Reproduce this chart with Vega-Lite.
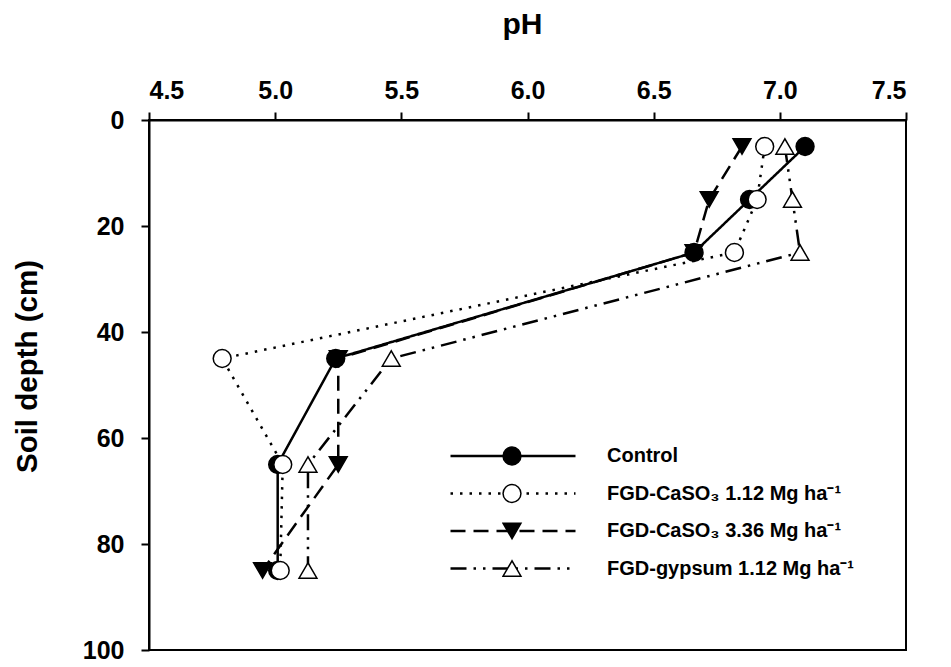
{
  "$schema": "https://vega.github.io/schema/vega-lite/v6.json",
  "width": 757,
  "height": 530,
  "autosize": {"type": "none"},
  "padding": {"left": 149, "top": 120, "right": 45, "bottom": 17},
  "background": "white",
  "config": {
    "view": {"stroke": "black", "strokeWidth": 2},
    "font": "Liberation Sans",
    "axis": {
      "grid": false,
      "domainColor": "black",
      "domainWidth": 2,
      "tickColor": "black",
      "tickWidth": 2,
      "tickSize": 8,
      "labelFont": "Liberation Sans",
      "labelFontWeight": "bold",
      "labelFontSize": 25,
      "labelColor": "black",
      "titleFont": "Liberation Sans",
      "titleFontWeight": "bold",
      "titleFontSize": 29.5,
      "titleColor": "black"
    },
    "legend": {
      "labelFont": "Liberation Sans",
      "labelFontWeight": "bold",
      "labelColor": "black",
      "symbolStrokeColor": "black",
      "symbolBaseStrokeColor": "black"
    }
  },
  "data": {
    "values": [
      {"series": "Control", "pH": 7.10, "depth": 5},
      {"series": "Control", "pH": 6.88, "depth": 15},
      {"series": "Control", "pH": 6.66, "depth": 25},
      {"series": "Control", "pH": 5.24, "depth": 45},
      {"series": "Control", "pH": 5.01, "depth": 65},
      {"series": "Control", "pH": 5.01, "depth": 85},
      {"series": "FGD-CaSO₃ 1.12 Mg ha⁻¹", "pH": 6.94, "depth": 5},
      {"series": "FGD-CaSO₃ 1.12 Mg ha⁻¹", "pH": 6.91, "depth": 15},
      {"series": "FGD-CaSO₃ 1.12 Mg ha⁻¹", "pH": 6.82, "depth": 25},
      {"series": "FGD-CaSO₃ 1.12 Mg ha⁻¹", "pH": 4.79, "depth": 45},
      {"series": "FGD-CaSO₃ 1.12 Mg ha⁻¹", "pH": 5.03, "depth": 65},
      {"series": "FGD-CaSO₃ 1.12 Mg ha⁻¹", "pH": 5.02, "depth": 85},
      {"series": "FGD-CaSO₃ 3.36 Mg ha⁻¹", "pH": 6.85, "depth": 5},
      {"series": "FGD-CaSO₃ 3.36 Mg ha⁻¹", "pH": 6.72, "depth": 15},
      {"series": "FGD-CaSO₃ 3.36 Mg ha⁻¹", "pH": 6.66, "depth": 25},
      {"series": "FGD-CaSO₃ 3.36 Mg ha⁻¹", "pH": 5.25, "depth": 45},
      {"series": "FGD-CaSO₃ 3.36 Mg ha⁻¹", "pH": 5.25, "depth": 65},
      {"series": "FGD-CaSO₃ 3.36 Mg ha⁻¹", "pH": 4.95, "depth": 85},
      {"series": "FGD-gypsum 1.12 Mg ha⁻¹", "pH": 7.02, "depth": 5},
      {"series": "FGD-gypsum 1.12 Mg ha⁻¹", "pH": 7.05, "depth": 15},
      {"series": "FGD-gypsum 1.12 Mg ha⁻¹", "pH": 7.08, "depth": 25},
      {"series": "FGD-gypsum 1.12 Mg ha⁻¹", "pH": 5.46, "depth": 45},
      {"series": "FGD-gypsum 1.12 Mg ha⁻¹", "pH": 5.13, "depth": 65},
      {"series": "FGD-gypsum 1.12 Mg ha⁻¹", "pH": 5.13, "depth": 85}
    ]
  },
  "encoding": {
    "x": {
      "field": "pH",
      "type": "quantitative",
      "scale": {"domain": [4.5, 7.5], "nice": false, "zero": false},
      "axis": {
        "orient": "top",
        "values": [4.5, 5, 5.5, 6, 6.5, 7, 7.5],
        "format": ".1f",
        "title": "pH",
        "labelPadding": 9,
        "titleFontSize": 30,
        "titleX": 373,
        "titleY": -87,
        "titleAlign": "center",
        "titleBaseline": "alphabetic"
      }
    },
    "y": {
      "field": "depth",
      "type": "quantitative",
      "scale": {"domain": [0, 100], "reverse": true, "nice": false},
      "axis": {
        "values": [0, 20, 40, 60, 80, 100],
        "title": "Soil depth (cm)",
        "labelPadding": 17,
        "titleX": -113,
        "titleY": 246,
        "titleAngle": 270,
        "titleAlign": "center",
        "titleBaseline": "alphabetic"
      }
    }
  },
  "layer": [
    {
      "mark": {"type": "line", "stroke": "black", "strokeWidth": 2.5},
      "encoding": {
        "order": {"field": "depth", "type": "quantitative"},
        "strokeDash": {
          "field": "series",
          "type": "nominal",
          "scale": {"range": [[1, 0], [2.5, 7], [15, 8], [16, 7, 2.5, 7, 2.5, 7]]},
          "legend": {
            "orient": "none",
            "legendX": 300,
            "legendY": 321,
            "title": null,
            "padding": 0,
            "symbolType": "stroke",
            "symbolSize": 15625,
            "symbolStrokeWidth": 2.5,
            "clipHeight": 30,
            "rowPadding": 7.5,
            "labelOffset": 30,
            "labelFontSize": 20,
            "labelLimit": 400
          }
        }
      }
    },
    {
      "mark": {"type": "point", "filled": true, "stroke": "black", "strokeWidth": 1.5, "size": 320, "opacity": 1},
      "encoding": {
        "shape": {
          "field": "series",
          "type": "nominal",
          "scale": {
            "domain": ["Control", "FGD-CaSO₃ 1.12 Mg ha⁻¹", "FGD-CaSO₃ 3.36 Mg ha⁻¹", "FGD-gypsum 1.12 Mg ha⁻¹"],
            "range": ["circle", "circle", "triangle-down", "triangle-up"]
          },
          "legend": {
            "orient": "none",
            "legendX": 353,
            "legendY": 321,
            "title": null,
            "padding": 0,
            "symbolSize": 320,
            "symbolStrokeWidth": 1.5,
            "clipHeight": 30,
            "rowPadding": 7.5,
            "labelExpr": "''",
            "labelFontSize": 1
          }
        },
        "color": {
          "field": "series",
          "type": "nominal",
          "scale": {
            "domain": ["Control", "FGD-CaSO₃ 1.12 Mg ha⁻¹", "FGD-CaSO₃ 3.36 Mg ha⁻¹", "FGD-gypsum 1.12 Mg ha⁻¹"],
            "range": ["black", "white", "black", "white"]
          },
          "legend": {
            "orient": "none",
            "legendX": 353,
            "legendY": 321,
            "title": null,
            "padding": 0,
            "symbolSize": 320,
            "symbolStrokeWidth": 1.5,
            "clipHeight": 30,
            "rowPadding": 7.5,
            "labelExpr": "''",
            "labelFontSize": 1
          }
        }
      }
    }
  ]
}
